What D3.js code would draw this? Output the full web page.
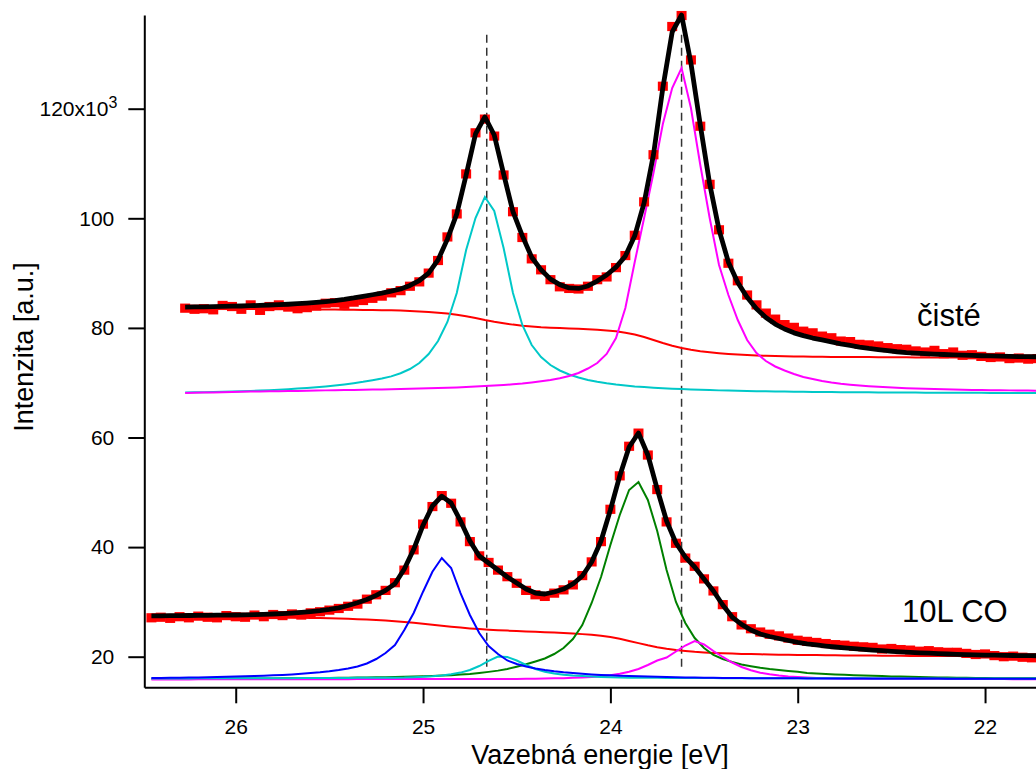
<!DOCTYPE html>
<html>
<head>
<meta charset="utf-8">
<script src="https://cdn.jsdelivr.net/npm/d3@7"></script>
<style>
  html, body { margin: 0; padding: 0; background: #fff; }
  svg { display: block; font-family: "Liberation Sans", Arial, sans-serif; }
</style>
</head>
<body>
<div class="chart"></div>
<script>
// binding energy grids (eV)
var energyTop = [26.27, 26.22, 26.17, 26.12, 26.07, 26.02, 25.97, 25.92, 25.87, 25.82,
  25.77, 25.72, 25.67, 25.62, 25.57, 25.52, 25.47, 25.42, 25.37, 25.32,
  25.27, 25.22, 25.17, 25.12, 25.07, 25.02, 24.97, 24.92, 24.87, 24.82,
  24.77, 24.72, 24.67, 24.62, 24.57, 24.52, 24.47, 24.42, 24.37, 24.32,
  24.27, 24.22, 24.17, 24.12, 24.07, 24.02, 23.97, 23.92, 23.87, 23.82,
  23.77, 23.72, 23.67, 23.62, 23.57, 23.52, 23.47, 23.42, 23.37, 23.32,
  23.27, 23.22, 23.17, 23.12, 23.07, 23.02, 22.97, 22.92, 22.87, 22.82,
  22.77, 22.72, 22.67, 22.62, 22.57, 22.52, 22.47, 22.42, 22.37, 22.32,
  22.27, 22.22, 22.17, 22.12, 22.07, 22.02, 21.97, 21.92, 21.87, 21.82,
  21.77, 21.72];

var energyBottom = [26.45, 26.40, 26.35, 26.30, 26.25, 26.20, 26.15, 26.10, 26.05, 26.00,
  25.95, 25.90, 25.85, 25.80, 25.75, 25.70, 25.65, 25.60, 25.55, 25.50,
  25.45, 25.40, 25.35, 25.30, 25.25, 25.20, 25.15, 25.10, 25.05, 25.00,
  24.95, 24.90, 24.85, 24.80, 24.75, 24.70, 24.65, 24.60, 24.55, 24.50,
  24.45, 24.40, 24.35, 24.30, 24.25, 24.20, 24.15, 24.10, 24.05, 24.00,
  23.95, 23.90, 23.85, 23.80, 23.75, 23.70, 23.65, 23.60, 23.55, 23.50,
  23.45, 23.40, 23.35, 23.30, 23.25, 23.20, 23.15, 23.10, 23.05, 23.00,
  22.95, 22.90, 22.85, 22.80, 22.75, 22.70, 22.65, 22.60, 22.55, 22.50,
  22.45, 22.40, 22.35, 22.30, 22.25, 22.20, 22.15, 22.10, 22.05, 22.00,
  21.95, 21.90, 21.85, 21.80, 21.75, 21.70];

// "čisté" spectrum (x10^3)
var topData = [83.6, 83.4, 83.5, 83.3, 84.1, 83.9, 83.4, 84.2, 83.2, 83.9,
  84.2, 83.8, 83.5, 83.7, 84.0, 84.5, 84.6, 84.3, 84.7, 85.0,
  85.4, 85.8, 86.4, 86.8, 87.6, 88.4, 90.0, 92.3, 96.6, 100.8,
  108.1, 115.6, 118.1, 115.0, 107.9, 101.2, 96.5, 92.6, 90.6, 88.8,
  87.5, 87.2, 87.1, 87.6, 88.8, 89.3, 91.0, 93.2, 96.9, 103.0,
  111.6, 124.1, 135.0, 137.0, 128.9, 116.8, 106.2, 97.9, 91.8, 88.6,
  86.0, 84.2, 82.7, 81.6, 80.6, 80.1, 79.4, 79.1, 78.5, 78.2,
  77.6, 77.5, 77.0, 76.9, 76.7, 76.4, 76.2, 76.1, 75.8, 75.6,
  75.9, 75.3, 75.6, 75.0, 75.1, 74.8, 74.6, 74.7, 74.4, 74.5,
  74.3, 74.4];

var topFit = [83.81, 83.83, 83.85, 83.89, 83.92, 83.96, 84.0, 84.05, 84.11, 84.18,
  84.25, 84.32, 84.42, 84.53, 84.65, 84.8, 84.98, 85.2, 85.46, 85.77,
  86.05, 86.35, 86.7, 87.1, 87.75, 88.65, 90.0, 92.4, 96.2, 100.8,
  107.9, 115.4, 118.5, 115.2, 108.1, 101.2, 96.8, 92.9, 90.6, 88.9,
  87.9, 87.3, 87.2, 87.65, 88.55, 89.65, 91.1, 93.1, 96.8, 102.8,
  111.6, 123.8, 134.0, 137.1, 128.3, 117.0, 106.3, 97.9, 92.0, 88.3,
  85.6, 83.5, 81.9, 80.7, 79.8, 79.1, 78.6, 78.15, 77.8, 77.45,
  77.1, 76.8, 76.5, 76.25, 76.05, 75.85, 75.65, 75.5, 75.4, 75.3,
  75.22, 75.15, 75.08, 75.02, 74.97, 74.92, 74.88, 74.84, 74.8, 74.77,
  74.75, 74.73];

var topBackground = [83.5, 83.5, 83.49, 83.48, 83.47, 83.46, 83.45, 83.44, 83.43, 83.42,
  83.41, 83.4, 83.39, 83.38, 83.37, 83.36, 83.35, 83.33, 83.3, 83.27,
  83.25, 83.22, 83.2, 83.17, 83.08, 82.99, 82.9, 82.76, 82.63, 82.39,
  82.12, 81.81, 81.44, 81.11, 80.84, 80.6, 80.4, 80.26, 80.13, 80.04,
  79.96, 79.89, 79.84, 79.76, 79.67, 79.54, 79.38, 79.12, 78.8, 78.34,
  77.79, 77.24, 76.75, 76.33, 76.0, 75.75, 75.55, 75.38, 75.24, 75.13,
  75.04, 74.96, 74.91, 74.86, 74.82, 74.79, 74.77, 74.75, 74.73, 74.71,
  74.7, 74.69, 74.68, 74.67, 74.66, 74.65, 74.64, 74.63, 74.62, 74.62,
  74.61, 74.61, 74.6, 74.6, 74.59, 74.59, 74.58, 74.58, 74.57, 74.57,
  74.56, 74.56];

var topPeakA = [68.23, 68.25, 68.27, 68.30, 68.34, 68.38, 68.43, 68.49, 68.56, 68.63,
  68.72, 68.81, 68.92, 69.05, 69.18, 69.32, 69.49, 69.69, 69.91, 70.16,
  70.46, 70.78, 71.15, 71.72, 72.5, 73.59, 75.24, 77.61, 81.08, 86.37,
  94.22, 100.05, 103.89, 101.34, 94.58, 86.37, 80.53, 76.88, 74.69, 73.23,
  72.23, 71.5, 70.95, 70.49, 70.16, 69.89, 69.67, 69.49, 69.32, 69.2,
  69.09, 69.0, 68.91, 68.83, 68.76, 68.71, 68.65, 68.6, 68.56, 68.52,
  68.49, 68.46, 68.43, 68.4, 68.38, 68.36, 68.34, 68.32, 68.3, 68.29,
  68.27, 68.26, 68.25, 68.24, 68.23, 68.22, 68.21, 68.2, 68.19, 68.18,
  68.18, 68.17, 68.16, 68.16, 68.15, 68.15, 68.14, 68.14, 68.13, 68.13,
  68.12, 68.12];

var topPeakB = [68.12, 68.16, 68.19, 68.23, 68.27, 68.30, 68.34, 68.38, 68.39, 68.43,
  68.45, 68.49, 68.50, 68.54, 68.56, 68.60, 68.61, 68.65, 68.67, 68.70,
  68.74, 68.78, 68.81, 68.85, 68.89, 68.92, 68.98, 69.03, 69.09, 69.14,
  69.22, 69.29, 69.38, 69.47, 69.58, 69.71, 69.85, 70.04, 70.26, 70.49,
  70.80, 71.22, 71.77, 72.59, 73.59, 75.24, 78.16, 83.63, 92.03, 100.05,
  108.27, 117.21, 123.78, 127.43, 120.13, 109.73, 100.05, 91.48, 86.0, 81.44,
  77.79, 75.42, 73.96, 72.96, 72.23, 71.59, 71.04, 70.68, 70.31, 70.04,
  69.82, 69.64, 69.49, 69.36, 69.25, 69.16, 69.07, 69.0, 68.94, 68.89,
  68.83, 68.80, 68.76, 68.72, 68.69, 68.67, 68.63, 68.61, 68.60, 68.58,
  68.56, 68.54];

// "10L CO" spectrum (x10^3)
var bottomData = [27.1, 27.2, 27.0, 27.3, 27.1, 27.4, 27.2, 27.1, 27.5, 27.3,
  27.2, 27.6, 27.3, 27.7, 27.5, 27.8, 27.6, 28.0, 28.2, 28.5,
  28.8, 29.2, 29.6, 30.5, 31.3, 32.1, 33.5, 35.8, 39.5, 44.2,
  47.4, 49.4, 48.0, 44.6, 41.0, 38.4, 37.2, 35.8, 34.6, 33.4,
  32.1, 31.3, 31.0, 31.6, 32.2, 33.1, 34.8, 37.3, 41.0, 46.9,
  53.0, 58.4, 60.8, 56.8, 50.5, 44.6, 40.7, 38.0, 36.5, 34.2,
  32.0, 29.5, 27.3, 25.8, 25.1, 24.5, 24.1, 23.8, 23.4, 23.0,
  22.8, 22.6, 22.4, 22.2, 22.1, 21.9, 21.8, 21.7, 21.4, 21.5,
  21.3, 21.2, 21.0, 21.1, 20.9, 20.8, 20.8, 20.6, 20.4, 20.5,
  20.2, 20.0, 20.1, 19.9, 19.8, 19.9];

var bottomFit = [27.46, 27.46, 27.48, 27.50, 27.52, 27.54, 27.55, 27.57, 27.59, 27.61,
  27.65, 27.68, 27.74, 27.79, 27.86, 27.96, 28.08, 28.23, 28.41, 28.63,
  28.92, 29.34, 29.84, 30.44, 31.2, 32.1, 33.3, 36.0, 39.6, 44.0,
  47.5, 49.3, 48.05, 44.76, 41.11, 38.38, 37.1, 35.82, 34.54, 33.45,
  32.35, 31.62, 31.44, 31.81, 32.35, 33.27, 34.73, 37.28, 41.11, 46.77,
  52.98, 58.27, 60.82, 56.81, 50.6, 44.76, 40.75, 38.19, 36.37, 34.18,
  31.99, 29.43, 27.24, 25.9, 24.87, 24.14, 23.69, 23.32, 22.96, 22.63,
  22.35, 22.14, 21.95, 21.77, 21.62, 21.48, 21.33, 21.2, 21.09, 20.99,
  20.89, 20.8, 20.71, 20.64, 20.57, 20.49, 20.43, 20.38, 20.34, 20.3,
  20.27, 20.24, 20.22, 20.2, 20.18, 20.17];

var bottomBackground = [27.34, 27.34, 27.32, 27.32, 27.30, 27.30, 27.28, 27.28, 27.26, 27.24,
  27.24, 27.23, 27.21, 27.19, 27.17, 27.15, 27.12, 27.08, 27.04, 27.01,
  26.97, 26.92, 26.84, 26.77, 26.68, 26.59, 26.46, 26.33, 26.19, 26.02,
  25.84, 25.66, 25.47, 25.31, 25.16, 25.04, 24.93, 24.84, 24.76, 24.69,
  24.62, 24.54, 24.47, 24.40, 24.32, 24.23, 24.12, 24.0, 23.81, 23.58,
  23.27, 22.88, 22.48, 22.08, 21.73, 21.44, 21.22, 21.04, 20.89, 20.78,
  20.69, 20.62, 20.57, 20.51, 20.47, 20.44, 20.40, 20.36, 20.35, 20.33,
  20.31, 20.29, 20.27, 20.26, 20.24, 20.22, 20.22, 20.20, 20.18, 20.18,
  20.16, 20.15, 20.15, 20.13, 20.13, 20.11, 20.11, 20.09, 20.09, 20.07,
  20.07, 20.05, 20.05, 20.04, 20.04, 20.02];

var bottomPeakBlue = [16.11, 16.13, 16.15, 16.17, 16.20, 16.22, 16.26, 16.30, 16.33, 16.39,
  16.42, 16.48, 16.53, 16.61, 16.68, 16.77, 16.88, 17.01, 17.15, 17.34,
  17.57, 17.85, 18.21, 18.76, 19.58, 20.68, 22.14, 24.87, 27.97, 31.86,
  35.51, 38.01, 36.19, 31.62, 27.61, 24.32, 21.95, 20.49, 19.31, 18.67,
  18.21, 17.85, 17.57, 17.34, 17.15, 17.01, 16.88, 16.77, 16.68, 16.61,
  16.53, 16.48, 16.42, 16.39, 16.33, 16.30, 16.26, 16.22, 16.20, 16.17,
  16.15, 16.13, 16.11, 16.10, 16.09, 16.08, 16.07, 16.06, 16.05, 16.05,
  16.04, 16.04, 16.03, 16.03, 16.02, 16.02, 16.02, 16.01, 16.01, 16.01,
  16.0, 16.0, 16.0, 16.0, 16.0, 15.99, 15.99, 15.99, 15.99, 15.99,
  15.98, 15.98, 15.98, 15.98, 15.98, 15.98];

var bottomPeakCyan = [16.02, 16.03, 16.03, 16.04, 16.04, 16.05, 16.05, 16.06, 16.06, 16.07,
  16.07, 16.07, 16.08, 16.08, 16.09, 16.09, 16.10, 16.10, 16.11, 16.11,
  16.12, 16.13, 16.14, 16.15, 16.16, 16.17, 16.18, 16.20, 16.26, 16.33,
  16.44, 16.59, 16.79, 17.10, 17.57, 18.30, 19.23, 20.04, 19.95, 19.31,
  18.49, 17.76, 17.24, 16.93, 16.72, 16.57, 16.46, 16.37, 16.30, 16.24,
  16.20, 16.18, 16.16, 16.15, 16.14, 16.13, 16.12, 16.11, 16.11, 16.10,
  16.10, 16.09, 16.09, 16.08, 16.08, 16.08, 16.07, 16.07, 16.07, 16.06,
  16.06, 16.06, 16.06, 16.05, 16.05, 16.05, 16.05, 16.04, 16.04, 16.04,
  16.04, 16.04, 16.03, 16.03, 16.03, 16.03, 16.03, 16.03, 16.02, 16.02,
  16.02, 16.02, 16.02, 16.02, 16.01, 16.01];

var bottomPeakGreen = [15.97, 15.97, 15.97, 15.97, 15.99, 15.99, 15.99, 16.0, 16.0, 16.0,
  16.02, 16.02, 16.04, 16.04, 16.06, 16.06, 16.08, 16.09, 16.11, 16.13,
  16.15, 16.17, 16.19, 16.20, 16.24, 16.26, 16.30, 16.33, 16.37, 16.42,
  16.48, 16.55, 16.62, 16.73, 16.86, 17.03, 17.23, 17.46, 17.77, 18.18,
  18.61, 19.12, 19.67, 20.49, 21.59, 23.23, 25.78, 29.80, 34.54, 40.38,
  45.86, 50.42, 51.88, 48.60, 42.94, 35.82, 29.98, 26.15, 23.41, 21.59,
  20.31, 19.58, 19.03, 18.58, 18.27, 17.99, 17.76, 17.57, 17.39, 17.24,
  17.03, 16.93, 16.84, 16.77, 16.70, 16.62, 16.57, 16.51, 16.46, 16.40,
  16.37, 16.33, 16.30, 16.26, 16.22, 16.19, 16.17, 16.15, 16.13, 16.11,
  16.09, 16.09, 16.08, 16.08, 16.06, 16.06];

var bottomPeakMagenta = [15.86, 15.86, 15.86, 15.86, 15.86, 15.88, 15.88, 15.88, 15.88, 15.88,
  15.88, 15.88, 15.88, 15.89, 15.89, 15.89, 15.89, 15.89, 15.89, 15.89,
  15.89, 15.89, 15.91, 15.91, 15.91, 15.91, 15.91, 15.91, 15.91, 15.91,
  15.93, 15.93, 15.93, 15.93, 15.93, 15.93, 15.93, 15.93, 15.93, 15.95,
  15.97, 15.99, 16.02, 16.06, 16.09, 16.15, 16.22, 16.31, 16.44, 16.62,
  16.88, 17.24, 17.76, 18.49, 19.31, 19.85, 20.95, 22.04, 22.86, 22.23,
  21.04, 19.95, 18.94, 18.12, 17.52, 17.08, 16.79, 16.57, 16.40, 16.28,
  16.19, 16.11, 16.06, 16.02, 15.99, 15.97, 15.96, 15.95, 15.95, 15.94,
  15.94, 15.93, 15.93, 15.93, 15.92, 15.92, 15.92, 15.92, 15.91, 15.91,
  15.91, 15.91, 15.90, 15.90, 15.90, 15.90];

// peak positions of the clean surface (dashed guides)
var peakMarks = [24.66, 23.62];

var xTicks = [26, 25, 24, 23, 22];
var yTicks = [20, 40, 60, 80, 100, 120];

var width = 1036,
    height = 769;

var x = d3.scaleLinear()
  .domain([26.488, 21.728])
  .range([144.3, 1036]);

var y = d3.scaleLinear()
  .domain([14.416, 137.1])
  .range([687.3, 15]);

var svg = d3.select(".chart")
  .append("svg")
    .attr("width", width)
    .attr("height", height);

function pairs(energy, values) {
  return energy.map(function(e, i) { return { e: e, v: values[i] }; });
}

var line = d3.line()
  .x(function(d) { return x(d.e); })
  .y(function(d) { return y(d.v); });

// dashed guide lines
svg.selectAll(".guide")
  .data(peakMarks)
  .enter()
  .append("line")
  .attr("class", "guide")
  .attr("x1", function(d) { return x(d); })
  .attr("x2", function(d) { return x(d); })
  .attr("y1", y(133.5))
  .attr("y2", y(17.5))
  .attr("stroke", "#333")
  .attr("stroke-width", 1.5)
  .attr("stroke-dasharray", "8,5");

// fitted components
var components = [
  { energy: energyTop, values: topBackground, color: "#ff0000" },
  { energy: energyTop, values: topPeakA, color: "#00c8c8" },
  { energy: energyTop, values: topPeakB, color: "#ff00ff" },
  { energy: energyBottom, values: bottomBackground, color: "#ff0000" },
  { energy: energyBottom, values: bottomPeakGreen, color: "#008000" },
  { energy: energyBottom, values: bottomPeakMagenta, color: "#ff00ff" },
  { energy: energyBottom, values: bottomPeakCyan, color: "#00c8c8" },
  { energy: energyBottom, values: bottomPeakBlue, color: "#0000ff" }
];

svg.selectAll(".component")
  .data(components)
  .enter()
  .append("path")
  .attr("class", "component")
  .attr("d", function(d) { return line(pairs(d.energy, d.values)); })
  .attr("fill", "none")
  .attr("stroke", function(d) { return d.color; })
  .attr("stroke-width", 2);

// measured points as red squares
var points = pairs(energyTop, topData).concat(pairs(energyBottom, bottomData));
svg.selectAll(".pt")
  .data(points)
  .enter()
  .append("rect")
  .attr("class", "pt")
  .attr("x", function(d) { return x(d.e) - 5; })
  .attr("y", function(d) { return y(d.v) - 4.6; })
  .attr("width", 10)
  .attr("height", 9.2)
  .attr("fill", "#ff0000");

// total fit
svg.selectAll(".fit")
  .data([pairs(energyTop, topFit), pairs(energyBottom, bottomFit)])
  .enter()
  .append("path")
  .attr("class", "fit")
  .attr("d", line)
  .attr("fill", "none")
  .attr("stroke", "#000")
  .attr("stroke-width", 4.8)
  .attr("stroke-linejoin", "round");

// axes
var xAxis = svg.append("g")
  .attr("transform", "translate(0," + y.range()[0] + ")")
  .call(d3.axisBottom(x).tickValues(xTicks).tickFormat(d3.format("d"))
    .tickSize(16).tickSizeOuter(0).tickPadding(16));

var yAxis = svg.append("g")
  .attr("transform", "translate(" + x.range()[0] + ",0)")
  .call(d3.axisLeft(y).tickValues(yTicks).tickFormat(d3.format("d"))
    .tickSize(16).tickSizeOuter(0).tickPadding(14));

[xAxis, yAxis].forEach(function(g) {
  g.attr("font-family", null).attr("font-size", 21);
  g.select(".domain").attr("stroke", "#000").attr("stroke-width", 2);
  g.selectAll(".tick line").attr("stroke", "#000").attr("stroke-width", 2);
  g.selectAll(".tick text").attr("fill", "#000");
});

// 120x10^3 label
yAxis.selectAll(".tick text")
  .filter(function(d) { return d === 120; })
  .attr("x", -27)
  .text("120x10")
  .append("tspan")
    .attr("dy", "-0.5em")
    .attr("font-size", 16)
    .text("3");

svg.append("text")
  .attr("x", 600)
  .attr("y", 764)
  .attr("text-anchor", "middle")
  .attr("font-size", 27)
  .text("Vazebná energie [eV]");

svg.append("text")
  .attr("transform", "translate(33,347) rotate(-90)")
  .attr("text-anchor", "middle")
  .attr("font-size", 27)
  .text("Intenzita [a.u.]");

svg.append("text")
  .attr("x", 917)
  .attr("y", 326)
  .attr("font-size", 31)
  .text("čisté");

svg.append("text")
  .attr("x", 902)
  .attr("y", 622)
  .attr("font-size", 31)
  .text("10L CO");
</script>
</body>
</html>
